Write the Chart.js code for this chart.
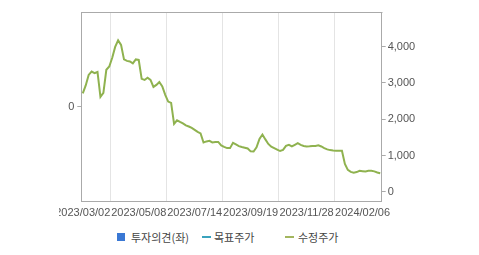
<!DOCTYPE html>
<html>
<head>
<meta charset="utf-8">
<script src="https://cdn.jsdelivr.net/npm/chart.js@4.4.1/dist/chart.umd.min.js"></script>
<style>
    body { margin: 0; background: #fff; width: 479px; height: 255px; overflow: hidden; position: relative; }
    #wrap { position: absolute; left: 59px; top: 0; width: 420px; height: 222px; overflow: hidden; }
    .lg { position: absolute; top: 229px; height: 16px; line-height: 16px; font-size: 11px; color: #444;
          font-family: "Noto Sans CJK KR", "Liberation Sans", sans-serif; white-space: nowrap; }
    .sq { position: absolute; top: 233px; width: 8px; height: 8px; background: #3a78d4; }
    .ln { position: absolute; top: 236px; width: 9px; height: 2px; }
</style>
</head>
<body>
<div id="wrap"><canvas id="myChart" width="420" height="222"></canvas></div>

<div class="sq" style="left:117px"></div>
<div class="lg" style="left:131px">투자의견(좌)</div>
<div class="ln" style="left:202px;background:#3aa3bd"></div>
<div class="lg" style="left:214px">목표주가</div>
<div class="ln" style="left:285px;background:#a3b65e"></div>
<div class="lg" style="left:298px">수정주가</div>

<script>
// --- DATA ---
const tickLabels = ['2023/03/02', '2023/05/08', '2023/07/14', '2023/09/19', '2023/11/28', '2024/02/06'];
const labelEvery = 19; // trading points between two date labels

// 수정주가 (right axis)
const priceValues = [
    2710, 2930, 3220, 3310, 3265, 3300, 2615, 2725, 3360, 3450,
    3690, 3990, 4170, 4045, 3645, 3605, 3590, 3535, 3645, 3630,
    3110, 3080, 3140, 3080, 2890, 2945, 3025, 2905, 2670, 2485,
    2450, 1870, 1970, 1925, 1885, 1830, 1800, 1760, 1705, 1650,
    1610, 1360, 1390, 1405, 1360, 1370, 1375, 1280, 1240, 1205,
    1205, 1350, 1305, 1260, 1235, 1215, 1195, 1115, 1110, 1225,
    1460, 1580, 1445, 1320, 1245, 1205, 1165, 1125, 1155, 1265,
    1295, 1250, 1295, 1340, 1295, 1265, 1250, 1255, 1265, 1265,
    1280, 1250, 1205, 1170, 1150, 1140, 1135, 1135, 1135, 770,
    605, 550, 530, 545, 580, 570, 560, 580, 580, 565,
    535, 515
];
const targetValues = [];   // 목표주가: no values shown
const opinionValues = [];  // 투자의견: no values shown
const rightTicks = [0, 1000, 2000, 3000, 4000];
const leftTicks = [0];

const categories = priceValues.map((v, i) => i);

// --- CHART ---
const frame = {
    id: 'frame',
    afterDraw(chart) {
        const a = chart.chartArea, c = chart.ctx;
        c.save();
        c.strokeStyle = '#aaaaaa';
        c.lineWidth = 1;
        c.beginPath();
        c.moveTo(Math.round(a.left) + 0.5, Math.round(a.top) + 0.5);
        c.lineTo(Math.round(a.right) + 0.5, Math.round(a.top) + 0.5);
        c.stroke();
        c.restore();
    }
};

const ctx = document.getElementById('myChart').getContext('2d');
new Chart(ctx, {
    data: {
        labels: categories,
        datasets: [
            { type: 'bar', label: '투자의견(좌)', data: opinionValues, yAxisID: 'yL', backgroundColor: '#3a78d4' },
            { type: 'line', label: '목표주가', data: targetValues, yAxisID: 'yR', borderColor: '#3aa3bd', borderWidth: 2, pointRadius: 0 },
            { type: 'line', label: '수정주가', data: priceValues, yAxisID: 'yR', borderColor: '#8fb24f', borderWidth: 2, pointRadius: 0, tension: 0 }
        ]
    },
    options: {
        responsive: false,
        animation: false,
        devicePixelRatio: 1,
        layout: { padding: { top: 12, left: 0, right: 0, bottom: 0 }, autoPadding: false },
        plugins: { legend: { display: false }, tooltip: { enabled: false } },
        scales: {
            x: {
                type: 'category',
                grid: { color: '#e4e4e4', drawTicks: false },
                border: { display: true, color: '#aaaaaa' },
                afterBuildTicks: s => { s.ticks = s.ticks.filter(t => t.value % labelEvery === 0); },
                afterFit: s => { s.height = 21; s.paddingLeft = 0; s.paddingRight = 0; },
                ticks: {
                    autoSkip: false, maxRotation: 0, padding: 5, color: '#555',
                    font: { family: '"Liberation Sans", Arial, sans-serif', size: 11 },
                    callback: v => tickLabels[v / labelEvery]
                }
            },
            yL: {
                position: 'left', min: -1, max: 1,
                grid: { drawOnChartArea: false, tickLength: 4, color: '#aaaaaa' },
                border: { display: true, color: '#aaaaaa' },
                afterBuildTicks: s => { s.ticks = leftTicks.map(v => ({ value: v })); },
                afterFit: s => { s.width = 22.3; s.paddingTop = 0; s.paddingBottom = 0; },
                ticks: { padding: 3, color: '#555', font: { family: '"Liberation Sans", Arial, sans-serif', size: 11 } }
            },
            yR: {
                position: 'right', min: -250, max: 4950,
                grid: { drawOnChartArea: false, tickLength: 4, color: '#aaaaaa' },
                border: { display: true, color: '#aaaaaa' },
                afterBuildTicks: s => { s.ticks = rightTicks.map(v => ({ value: v })); },
                afterFit: s => { s.width = 97.3; s.paddingTop = 0; s.paddingBottom = 0; },
                ticks: {
                    padding: 2, color: '#555',
                    font: { family: '"Liberation Sans", Arial, sans-serif', size: 11 },
                    callback: v => v.toLocaleString('en-US')
                }
            }
        }
    },
    plugins: [frame]
});
</script>
</body>
</html>
